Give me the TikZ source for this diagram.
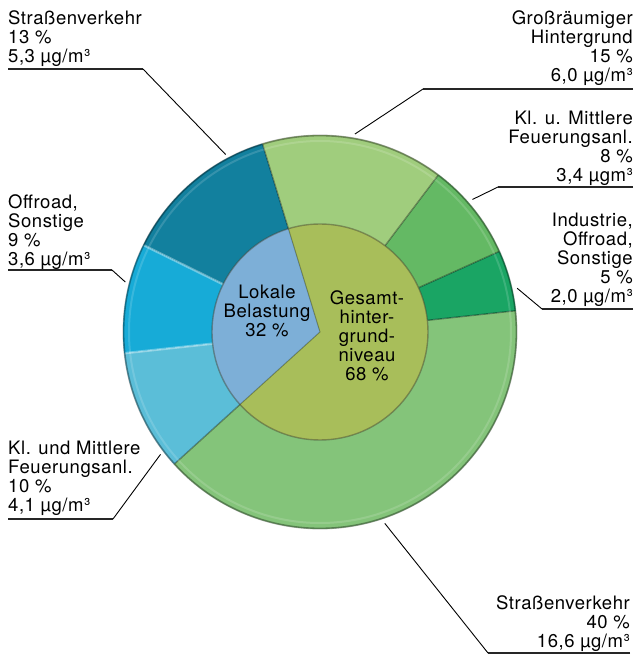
\documentclass[tikz,border=0pt]{standalone}
\usepackage{fontspec}
\usetikzlibrary{calc}
\setmainfont{TeX Gyre Heros}[LetterSpace=3]
\definecolor{cSa}{HTML}{12809E}
\definecolor{cOff}{HTML}{17ABD7}
\definecolor{cKlF}{HTML}{5BBED8}
\definecolor{cLok}{HTML}{7DAFD7}
\definecolor{cGes}{HTML}{A8BE5A}
\definecolor{cGro}{HTML}{A0CD7D}
\definecolor{cKlM}{HTML}{64B964}
\definecolor{cInd}{HTML}{1AA564}
\definecolor{cSb}{HTML}{84C47A}
\newcommand\LftLines[1]{\vtop{\baselineskip=19pt\lineskip=0pt\lineskiplimit=-20pt\halign{##\hfil\cr#1\crcr}}}
\newcommand\RgtLines[1]{\vtop{\baselineskip=19pt\lineskip=0pt\lineskiplimit=-20pt\halign{\hfil##\cr#1\crcr}}}
\newcommand\CtrLines[1]{\vtop{\baselineskip=19pt\lineskip=0pt\lineskiplimit=-20pt\halign{\hfil##\hfil\cr#1\crcr}}}
\tikzset{
  lbl/.style={inner sep=0pt, font=\fontsize{18.5}{19}\selectfont},
  uline/.style={line width=1.6pt, black!85},
  leader/.style={line width=0.9pt, black},
  rimline/.style={line width=1.8pt, black, opacity=.35},
  sepdark/.style={line width=1.4pt, black, opacity=.35},
  seplight/.style={line width=2.4pt, white, opacity=.35},
}
\begin{document}
\begin{tikzpicture}[x=1pt,y=1pt]
\useasboundingbox (0,0) rectangle (639,657);
\coordinate (C) at (320,325);
% outer ring slices
\fill[cSa]  (C) -- ++(107:197)   arc[start angle=107,   end angle=153.8, radius=197] -- cycle;
\fill[cOff] (C) -- ++(153.8:197) arc[start angle=153.8, end angle=186.2, radius=197] -- cycle;
\fill[cKlF] (C) -- ++(186.2:197) arc[start angle=186.2, end angle=222.2, radius=197] -- cycle;
\fill[cSb]  (C) -- ++(222.2:197) arc[start angle=222.2, end angle=366.2, radius=197] -- cycle;
\fill[cInd] (C) -- ++(6.2:197)   arc[start angle=6.2,   end angle=24.2,  radius=197] -- cycle;
\fill[cKlM] (C) -- ++(24.2:197)  arc[start angle=24.2,  end angle=53,    radius=197] -- cycle;
\fill[cGro] (C) -- ++(53:197)    arc[start angle=53,    end angle=107,   radius=197] -- cycle;
% separators in ring
\draw[seplight] ($(C)+(153.8:108)$) -- ($(C)+(153.8:196)$);
\draw[seplight] ($(C)+(186.2:108)$) -- ($(C)+(186.2:196)$);
\draw[sepdark] ($(C)+(107:108)$) -- ($(C)+(107:196)$);
\draw[sepdark] ($(C)+(53:108)$) -- ($(C)+(53:196)$);
\draw[sepdark] ($(C)+(24.2:108)$) -- ($(C)+(24.2:196)$);
\draw[sepdark] ($(C)+(6.2:108)$) -- ($(C)+(6.2:196)$);
\draw[sepdark] ($(C)+(222.2:108)$) -- ($(C)+(222.2:196)$);
% rim
\draw[white, opacity=.15, line width=2pt] (C) circle[radius=191];
\draw[rimline] (C) circle[radius=196.5];
% inner pie
\fill[cLok] (C) -- ++(107:108) arc[start angle=107, end angle=222.2, radius=108] -- cycle;
\fill[cGes] (C) -- ++(222.2:108) arc[start angle=222.2, end angle=467, radius=108] -- cycle;
\draw[line width=1pt, black, opacity=.3] ($(C)+(107:108)$) -- (C) -- ($(C)+(222.2:108)$);
\draw[line width=1.4pt, black!70!olive, opacity=.45] (C) circle[radius=108];
% label nodes
\node[lbl, anchor=base west] (tl) at (8,632) {\LftLines{Straßenverkehr\cr 13 \%\cr 5,3 µg/m³}};
\node[lbl, anchor=base west] (off) at (8,448) {\LftLines{Offroad,\cr Sonstige\cr 9 \%\cr 3,6 µg/m³}};
\node[lbl, anchor=base west] (klf) at (8,202) {\LftLines{Kl. und Mittlere\cr Feuerungsanl.\cr 10 \%\cr 4,1 µg/m³}};
\node[lbl, anchor=base east] (gro) at (633,632) {\RgtLines{Großräumiger\cr Hintergrund\cr 15 \%\cr 6,0 µg/m³}};
\node[lbl, anchor=base east] (klm) at (633,532) {\RgtLines{Kl. u. Mittlere\cr Feuerungsanl.\cr 8 \%\cr 3,4 µgm³}};
\node[lbl, anchor=base east] (ind) at (633,430) {\RgtLines{Industrie,\cr Offroad,\cr Sonstige\cr 5 \%\cr 2,0 µg/m³}};
\node[lbl, anchor=base east] (sb) at (630,47) {\RgtLines{Straßenverkehr\cr 40 \%\cr 16,6 µg/m³}};
\node[lbl, anchor=base] (lok) at (267,358) {\CtrLines{Lokale\cr Belastung\cr 32 \%}};
\node[lbl, anchor=base] (ges) at (367,352) {\CtrLines{Gesamt-\cr hinter-\cr grund-\cr niveau\cr 68 \%}};
% leader coordinates
\coordinate (tlA) at (8,588);   \coordinate (tlB) at (143,588); \coordinate (tlP) at ($(C)+(118:201)$);
\coordinate (offA) at (8,387);  \coordinate (offB) at (112,387); \coordinate (offP) at ($(C)+(165.6:201)$);
\coordinate (klfA) at (8,138);  \coordinate (klfB) at (113,138); \coordinate (klfP) at ($(C)+(217.5:201)$);
\coordinate (groA) at (633,568); \coordinate (groB) at (423,568); \coordinate (groP) at ($(C)+(80:201)$);
\coordinate (klmA) at (633,470); \coordinate (klmB) at (498,470); \coordinate (klmP) at ($(C)+(41:202)$);
\coordinate (indA) at (633,348); \coordinate (indB) at (542,348); \coordinate (indP) at ($(C)+(12.5:202)$);
\coordinate (sbA) at (630,4);   \coordinate (sbB) at (488,4);   \coordinate (sbP) at ($(C)+(-71.3:202)$);
\foreach \n in {tl,off,klf,gro,klm,ind,sb}{
  \draw[uline] (\n A) -- (\n B);
  \draw[leader] (\n B) -- (\n P);
}
\end{tikzpicture}
\end{document}
